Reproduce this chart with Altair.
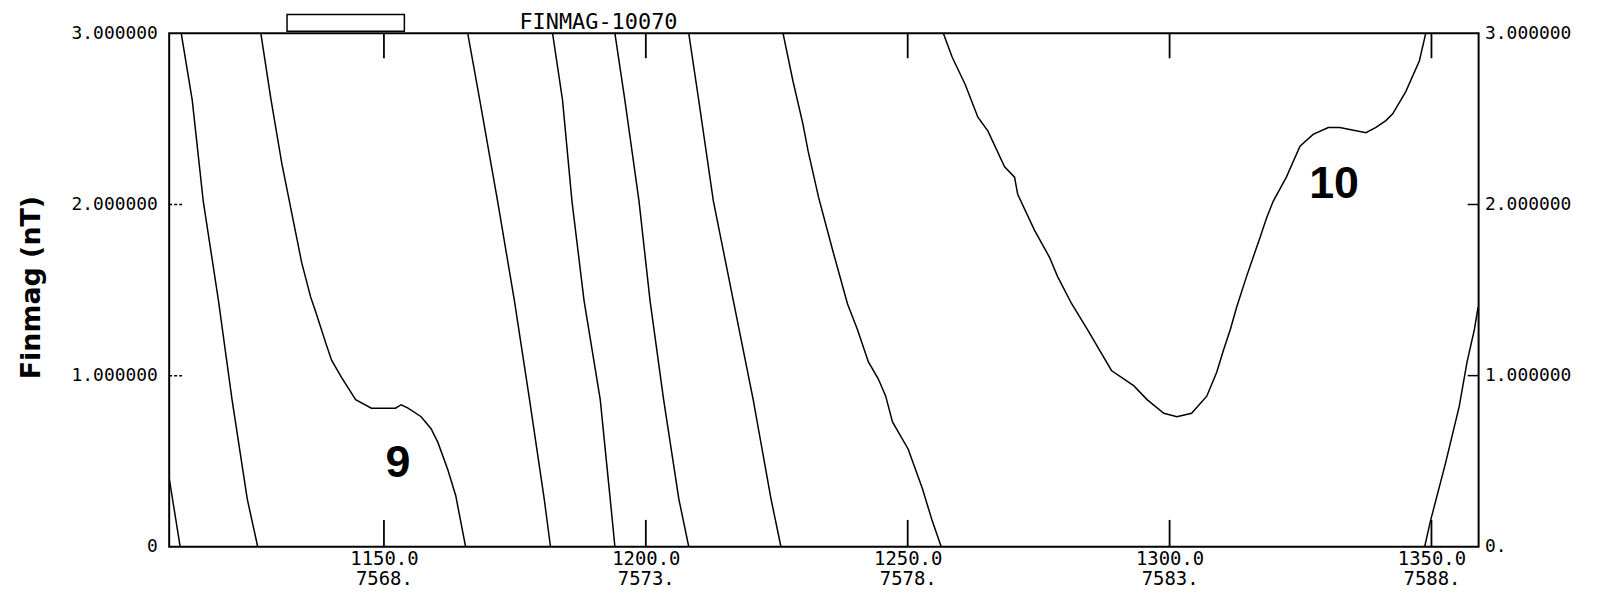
import altair as alt
import pandas as pd

# ---------------- data ----------------
X_DOMAIN = [1109.0, 1359.0]
Y_DOMAIN = [0.0, 3.0]

XTICKS = [1150, 1200, 1250, 1300, 1350]
XLABELS_MAIN = ["1150.0", "1200.0", "1250.0", "1300.0", "1350.0"]
XLABELS_SUB = ["7568.", "7573.", "7578.", "7583.", "7588."]

YTICKS = [0, 1, 2, 3]
YLABELS_LEFT = ["0", "1.000000", "2.000000", "3.000000"]
YLABELS_RIGHT = ["0.", "1.000000", "2.000000", "3.000000"]
YTICKS_INNER = [1, 2]

TITLE_TEXT = "FINMAG-10070"
Y_TITLE = "Finmag (nT)"

seg_a_x = [1109.0, 1111.1]
seg_a_y = [0.40, 0.0]

seg_b_x = [1111.3, 1113.4, 1115.5, 1118.4, 1121.0, 1123.9, 1125.9]
seg_b_y = [3.0, 2.61, 2.02, 1.44, 0.86, 0.28, 0.0]

seg_c_x = [1126.5, 1128.4, 1130.5, 1132.4, 1134.3, 1136.0, 1137.0, 1138.9, 1140.0, 1141.9,
           1144.6, 1147.6, 1152.2, 1153.3, 1154.6, 1157.1, 1159.0, 1160.3, 1162.2, 1163.7, 1165.6]
seg_c_y = [3.0, 2.62, 2.24, 1.95, 1.66, 1.46, 1.37, 1.19, 1.09, 0.99,
           0.86, 0.81, 0.81, 0.83, 0.81, 0.76, 0.69, 0.61, 0.45, 0.30, 0.0]

seg_d_x = [1166.0, 1168.3, 1171.7, 1174.9, 1177.8, 1180.6, 1181.8]
seg_d_y = [3.0, 2.61, 2.02, 1.44, 0.86, 0.28, 0.0]

seg_e_x = [1182.2, 1184.1, 1185.9, 1188.2, 1191.3, 1193.2, 1194.1]
seg_e_y = [3.0, 2.61, 2.02, 1.44, 0.86, 0.28, 0.0]

seg_f_x = [1194.1, 1196.0, 1198.7, 1200.8, 1203.4, 1206.3, 1208.2]
seg_f_y = [3.0, 2.61, 2.02, 1.44, 0.86, 0.28, 0.0]

seg_g_x = [1208.2, 1210.1, 1212.9, 1216.7, 1220.5, 1223.9, 1225.8]
seg_g_y = [3.0, 2.61, 2.02, 1.44, 0.86, 0.28, 0.0]

seg_h_x = [1226.2, 1228.1, 1230.0, 1231.0, 1233.0, 1235.7, 1238.5, 1240.4, 1242.5, 1244.4,
           1245.8, 1247.1, 1250.1, 1252.8, 1254.7, 1256.4]
seg_h_y = [3.0, 2.72, 2.47, 2.31, 2.04, 1.73, 1.42, 1.27, 1.08, 0.98,
           0.88, 0.73, 0.57, 0.34, 0.15, 0.0]

seg_i_x = [1256.8, 1258.5, 1261.0, 1263.4, 1265.3, 1268.5, 1270.4, 1271.0, 1274.2, 1277.1,
           1278.6, 1281.3, 1284.3, 1288.9, 1293.2, 1295.7, 1298.9, 1301.4, 1304.2, 1307.1,
           1309.0, 1310.3, 1311.6, 1312.8, 1314.7, 1317.3, 1318.5, 1319.8, 1322.3, 1324.9,
           1327.4, 1330.3, 1332.5, 1337.5, 1339.4, 1341.3, 1342.6, 1345.1, 1347.7, 1348.9]
seg_i_y = [3.0, 2.86, 2.70, 2.51, 2.43, 2.22, 2.16, 2.06, 1.85, 1.69,
           1.58, 1.42, 1.27, 1.03, 0.94, 0.86, 0.78, 0.76, 0.78, 0.88,
           1.02, 1.15, 1.27, 1.40, 1.58, 1.81, 1.92, 2.02, 2.16, 2.34,
           2.41, 2.45, 2.45, 2.42, 2.45, 2.49, 2.53, 2.66, 2.84, 3.0]

seg_j_x = [1348.7, 1349.8, 1352.7, 1355.3, 1356.8, 1358.2, 1358.9]
seg_j_y = [0.0, 0.15, 0.49, 0.82, 1.08, 1.27, 1.40]

NUM_LABELS = ["9", "10"]
NUM_X = [1152.7, 1331.4]
NUM_Y = [0.49, 2.12]

BAR_X1 = [1131.5]
BAR_X2 = [1153.9]

# ---------------- build tables ----------------
segments = {
    "a": (seg_a_x, seg_a_y), "b": (seg_b_x, seg_b_y), "c": (seg_c_x, seg_c_y),
    "d": (seg_d_x, seg_d_y), "e": (seg_e_x, seg_e_y), "f": (seg_f_x, seg_f_y),
    "g": (seg_g_x, seg_g_y), "h": (seg_h_x, seg_h_y), "i": (seg_i_x, seg_i_y),
    "j": (seg_j_x, seg_j_y),
}
frames = []
for name, (xs, ys) in segments.items():
    assert len(xs) == len(ys), name
    frames.append(pd.DataFrame({"x": xs, "y": ys, "seg": name}))
lines_df = pd.concat(frames, ignore_index=True)

W, H = 1316, 516
MONO = "DejaVu Sans Mono"


def chain(vals, labels):
    parts = [f"datum.value == {v} ? {l}" for v, l in zip(vals, labels)]
    return " : ".join(parts) + " : ''"


x_label_expr = chain(XTICKS, [f"['{a}', '{b}']" for a, b in zip(XLABELS_MAIN, XLABELS_SUB)])
y_left_expr = chain(YTICKS, [f"'{l}'" for l in YLABELS_LEFT])
y_right_expr = chain(YTICKS, [f"'{l}'" for l in YLABELS_RIGHT])

XS = alt.Scale(domain=X_DOMAIN, nice=False, zero=False)
YS = alt.Scale(domain=Y_DOMAIN, nice=False, zero=False)

x_axis = alt.Axis(orient="bottom", values=XTICKS, labelExpr=x_label_expr, ticks=False, tickSize=0,
                  domain=False, grid=False, labelFont=MONO, labelFontSize=19, labelColor="black",
                  labelPadding=3, labelLineHeight=20, labelAngle=0, labelBaseline="top",
                  labelFlush=False, labelOverlap=False, title=None)

y_left_axis = alt.Axis(orient="left", values=YTICKS, labelExpr=y_left_expr, ticks=False, tickSize=0,
                       domain=False, grid=False, labelFont=MONO, labelFontSize=18, labelColor="black",
                       labelPadding=12, labelFlush=False, labelOverlap=False,
                       title=Y_TITLE, titleFont="DejaVu Sans", titleFontWeight="bold", titleFontSize=27,
                       titleColor="black", titleX=-138, titleY=255, titleAngle=270,
                       titleAlign="center", titleBaseline="middle")

y_right_axis = alt.Axis(orient="right", values=YTICKS, labelExpr=y_right_expr, ticks=False, tickSize=0,
                        domain=False, grid=False, labelFont=MONO, labelFontSize=18, labelColor="black",
                        labelPadding=6, labelFlush=False, labelOverlap=False, title=None)

lines = alt.Chart(lines_df).mark_line(color="black", strokeWidth=1.5, clip=True).encode(
    x=alt.X("x:Q", scale=XS, axis=x_axis),
    y=alt.Y("y:Q", scale=YS, axis=y_left_axis),
    detail="seg:N",
)

ytick_df = pd.DataFrame({"v": YTICKS_INNER})
left_ticks = alt.Chart(ytick_df).mark_rule(color="black", strokeWidth=1.5, strokeDash=[3, 2]).encode(
    y=alt.Y("v:Q", scale=YS, axis=None), x=alt.value(0), x2=alt.value(13))
right_ticks = alt.Chart(ytick_df).mark_rule(color="black", strokeWidth=1.5).encode(
    y=alt.Y("v:Q", scale=YS, axis=y_right_axis), x=alt.value(W - 11), x2=alt.value(W))

xtick_df = pd.DataFrame({"x": XTICKS})
bottom_ticks = alt.Chart(xtick_df).mark_rule(color="black", strokeWidth=1.8).encode(
    x=alt.X("x:Q", scale=XS, axis=x_axis), y=alt.value(H), y2=alt.value(H - 27))
top_ticks = alt.Chart(xtick_df).mark_rule(color="black", strokeWidth=1.8).encode(
    x=alt.X("x:Q", scale=XS, axis=x_axis), y=alt.value(0), y2=alt.value(25))

num_df = pd.DataFrame({"x": NUM_X, "y": NUM_Y, "t": NUM_LABELS})
numbers = alt.Chart(num_df).mark_text(font="Liberation Sans", fontSize=45, fontWeight="bold",
                                      color="black", align="center", baseline="middle").encode(
    x=alt.X("x:Q", scale=XS, axis=x_axis), y=alt.Y("y:Q", scale=YS, axis=None), text="t:N")

bar_df = pd.DataFrame({"x": BAR_X1, "x2": BAR_X2})
bar = alt.Chart(bar_df).mark_rect(fill="white", stroke="black", strokeWidth=1.5).encode(
    x=alt.X("x:Q", scale=XS, axis=x_axis), x2="x2:Q", y=alt.value(-19), y2=alt.value(-2))

title_df = pd.DataFrame({"t": [TITLE_TEXT]})
title = alt.Chart(title_df).mark_text(font=MONO, fontSize=22, color="black", align="left",
                                      baseline="alphabetic").encode(
    x=alt.value(352), y=alt.value(-4), text="t:N")

chart = alt.layer(lines, left_ticks, right_ticks, bottom_ticks, top_ticks, numbers, bar, title).resolve_scale(
    y="independent"
).properties(
    width=W, height=H,
    padding={"left": 162, "top": 24, "right": 120, "bottom": 50},
    autosize=alt.AutoSizeParams(type="none"),
    background="white",
).configure_view(stroke="black", strokeWidth=2)

chart.save("out.html", embed_options={"renderer": "svg", "actions": False})
